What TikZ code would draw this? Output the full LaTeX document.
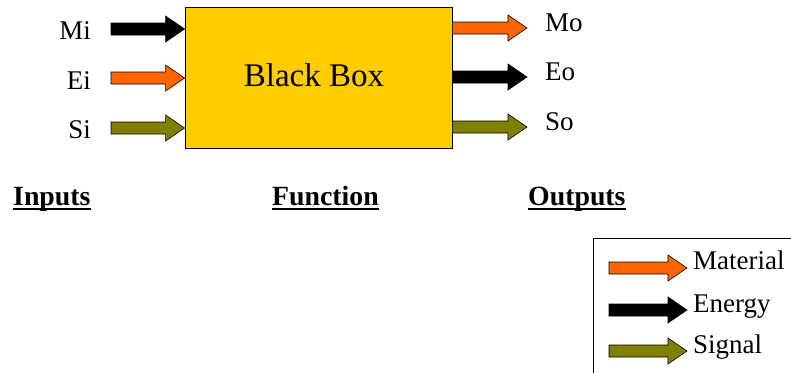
\documentclass[tikz,border=0pt]{standalone}
\usepackage{fontspec}
\setmainfont{Liberation Serif}
\usetikzlibrary{calc}

\definecolor{boxyellow}{HTML}{FFCC00}
\definecolor{matorange}{HTML}{FF6600}
\definecolor{sigolive}{HTML}{808000}

% Horizontal block arrow from the x of #1 to the x of #2, at the height of #1
\newcommand{\flowarrow}[3]{%
  \draw[flowline, fill=#3] let \p1=(#1), \p2=(#2) in
    (\x1,\y1+6pt) -- (\x2-19pt,\y1+6pt) -- (\x2-19pt,\y1+13pt) -- (\x2,\y1)
    -- (\x2-19pt,\y1-13pt) -- (\x2-19pt,\y1-6pt) -- (\x1,\y1-6pt) -- cycle;}

\begin{document}
\begin{tikzpicture}[x=1pt, y=-1pt,
  flowline/.style={draw=black, line width=0.6pt, line join=miter},
  lbl/.style={inner sep=0pt, font=\fontsize{27}{31}\selectfont},
  heading/.style={inner sep=0pt, font=\fontsize{27.8}{32}\selectfont\bfseries},
  ul/.style={line width=2.2pt}]
\useasboundingbox (0,0) rectangle (791,372);

% the function block
\node[draw=black, line width=0.8pt, fill=boxyellow, minimum width=267pt,
      minimum height=141pt, inner sep=0pt] (bb) at (318.5,77.5) {};
\node[inner sep=0pt, anchor=base, font=\fontsize{33}{37}\selectfont]
      (bbtext) at (314,86) {Black Box};

% input flows
\coordinate (miS) at (111,29);
\coordinate (eiS) at (111,78);
\coordinate (siS) at (111,128);
\flowarrow{miS}{bb.west}{black}
\flowarrow{eiS}{bb.west}{matorange}
\flowarrow{siS}{bb.west}{sigolive}
\node[lbl, anchor=base east] (mi) at (91,39) {Mi};
\node[lbl, anchor=base east] (ei) at (91,89) {Ei};
\node[lbl, anchor=base east] (si) at (91,138) {Si};

% output flows
\coordinate (moT) at (527,28);
\coordinate (eoT) at (527,77);
\coordinate (soT) at (527,127);
\flowarrow{bb.east |- moT}{moT}{matorange}
\flowarrow{bb.east |- eoT}{eoT}{black}
\flowarrow{bb.east |- soT}{soT}{sigolive}
\node[lbl, anchor=base west] (mo) at (545,31) {Mo};
\node[lbl, anchor=base west] (eo) at (545,80) {Eo};
\node[lbl, anchor=base west] (so) at (545,130) {So};

% column headings
\node[heading, anchor=base west] (hin) at (13,205) {Inputs};
\node[heading, anchor=base west] (hfn) at (272,205) {Function};
\node[heading, anchor=base west] (hout) at (528,205) {Outputs};
\foreach \h in {hin,hfn,hout}
  \draw[ul] ($(\h.base west)+(0,4)$) -- ($(\h.base east)+(0,4)$);

% legend
\draw[line width=0.8pt] (593,238) rectangle (820,400);
\coordinate (lmS) at (609,268);  \coordinate (lmT) at (687,268);
\coordinate (leS) at (609,310);  \coordinate (leT) at (687,310);
\coordinate (lsS) at (609,351);  \coordinate (lsT) at (687,351);
\flowarrow{lmS}{lmT}{matorange}
\flowarrow{leS}{leT}{black}
\flowarrow{lsS}{lsT}{sigolive}
\node[lbl, anchor=base west] (lm) at (693,269) {Material};
\node[lbl, anchor=base west] (le) at (693,312) {Energy};
\node[lbl, anchor=base west] (ls) at (693,353) {Signal};
\end{tikzpicture}
\end{document}
